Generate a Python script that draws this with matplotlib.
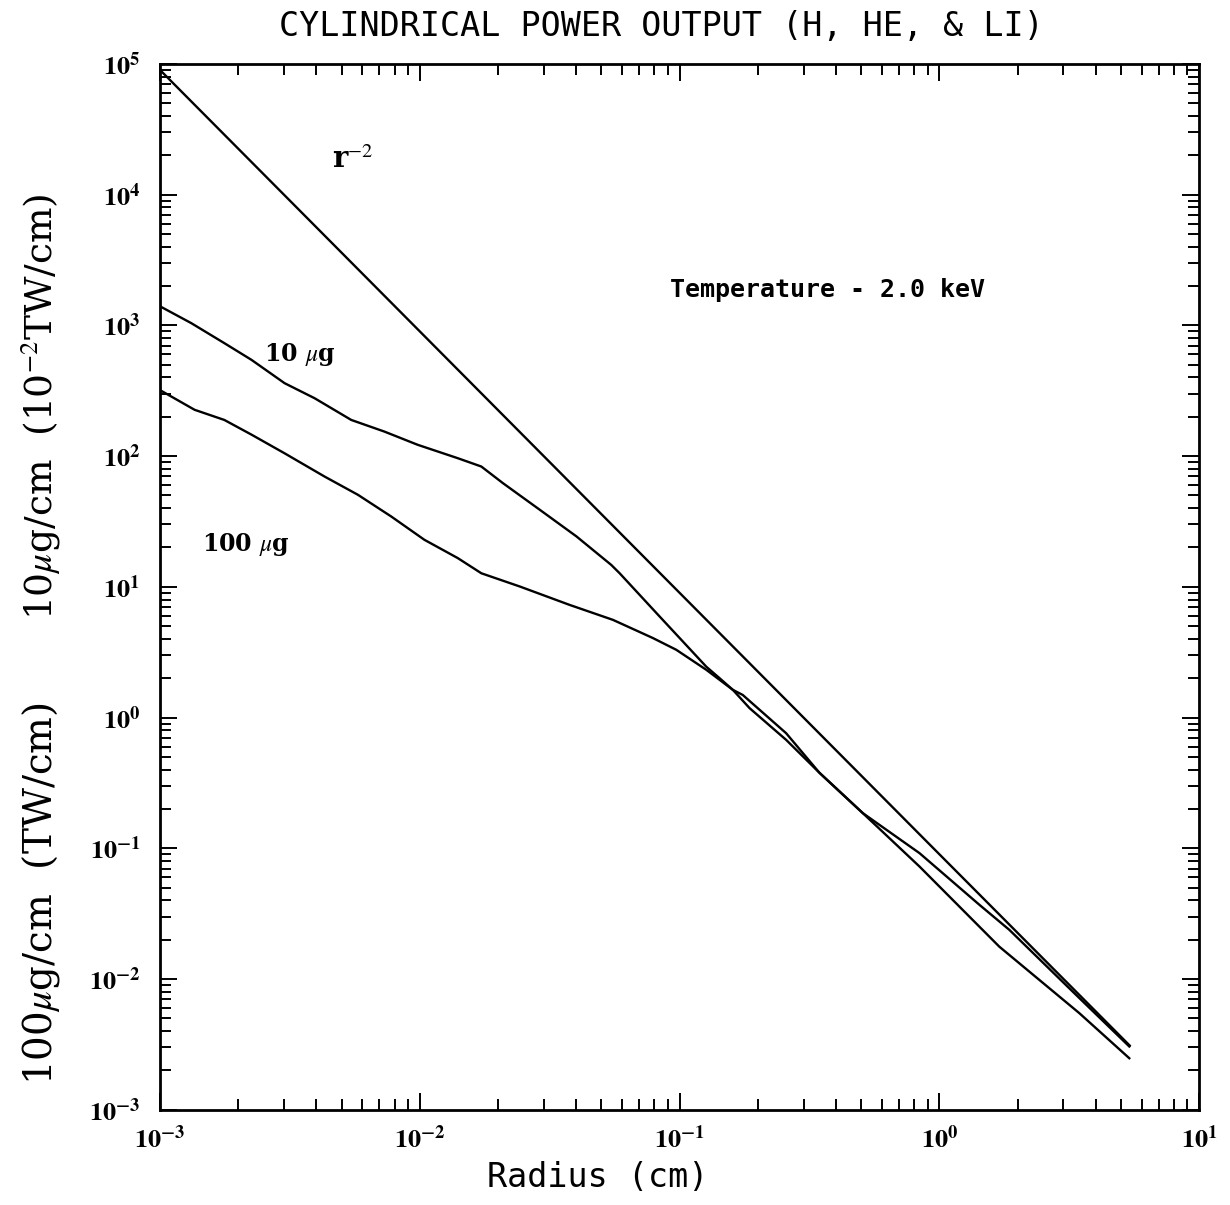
import matplotlib
matplotlib.use("Agg")
import matplotlib.pyplot as plt
from matplotlib.ticker import LogLocator, NullFormatter

plt.rcParams["mathtext.fontset"] = "stix"

# r^-2 reference line
r2_radius = [0.001, 0.01, 0.1, 1.0, 5.4]
r2_power = [9.0e4, 900, 9.0, 0.09, 3.1e-3]

# 10 ug curve
ug10_radius = [0.001, 0.00132, 0.00177, 0.00225, 0.00302, 0.00394, 0.00545, 0.00731,
               0.00982, 0.0140, 0.01726, 0.0209, 0.0290, 0.0401, 0.0546, 0.0588, 0.0838,
               0.1267, 0.1426, 0.1603, 0.186, 0.257, 0.3455, 0.507, 0.838, 1.70, 3.45, 5.38]
ug10_power = [1400, 1040, 731, 545, 361, 277, 189, 154,
              122, 96.4, 83.2, 62.1, 38.8, 24.3, 14.7, 12.7, 5.93,
              2.45, 2.00, 1.63, 1.18, 0.676, 0.378, 0.186, 0.0726, 0.0177, 0.0055, 0.00248]

# 100 ug curve
ug100_radius = [0.001, 0.00136, 0.00177, 0.00225, 0.00302, 0.0043, 0.00578, 0.00777,
                0.01042, 0.0140, 0.01726, 0.0243, 0.0377, 0.0554, 0.0789, 0.0971, 0.1267,
                0.1603, 0.175, 0.257, 0.3455, 0.507, 0.838, 1.425, 1.858, 3.16, 5.38]
ug100_power = [320, 226, 189, 146, 105, 69.8, 50.6, 34.5,
               22.9, 16.6, 12.7, 10.05, 7.28, 5.59, 4.06, 3.30, 2.32,
               1.63, 1.49, 0.76, 0.378, 0.186, 0.0919, 0.037, 0.0238, 0.0085, 0.00305]

x_ticks = [1e-3, 1e-2, 1e-1, 1e0, 1e1]
x_tick_labels = [r"$\mathbf{10^{-3}}$", r"$\mathbf{10^{-2}}$", r"$\mathbf{10^{-1}}$",
                 r"$\mathbf{10^{0}}$", r"$\mathbf{10^{1}}$"]
y_ticks = [1e-3, 1e-2, 1e-1, 1e0, 1e1, 1e2, 1e3, 1e4, 1e5]
y_tick_labels = [r"$\mathbf{10^{-3}}$", r"$\mathbf{10^{-2}}$", r"$\mathbf{10^{-1}}$",
                 r"$\mathbf{10^{0}}$", r"$\mathbf{10^{1}}$", r"$\mathbf{10^{2}}$",
                 r"$\mathbf{10^{3}}$", r"$\mathbf{10^{4}}$", r"$\mathbf{10^{5}}$"]

fig = plt.figure(figsize=(12.3, 12.05), dpi=100)
ax = fig.add_axes([0.130, 0.079, 0.845, 0.868])

line_kw = dict(color="black", linewidth=1.7)
ax.plot(r2_radius, r2_power, **line_kw)
ax.plot(ug10_radius, ug10_power, **line_kw)
ax.plot(ug100_radius, ug100_power, **line_kw)

ax.set_xscale("log")
ax.set_yscale("log")
ax.set_xlim(1e-3, 1e1)
ax.set_ylim(1e-3, 1e5)

ax.set_xticks(x_ticks, labels=x_tick_labels)
ax.set_yticks(y_ticks, labels=y_tick_labels)
ax.xaxis.set_minor_locator(LogLocator(base=10, subs=range(2, 10), numticks=100))
ax.yaxis.set_minor_locator(LogLocator(base=10, subs=range(2, 10), numticks=100))
ax.xaxis.set_minor_formatter(NullFormatter())
ax.yaxis.set_minor_formatter(NullFormatter())
ax.tick_params(which="both", direction="in", top=True, right=True, width=1.4)
ax.tick_params(which="major", length=12, labelsize=19)
ax.tick_params(axis="x", which="major", pad=12)
ax.tick_params(axis="y", which="major", pad=14)
ax.tick_params(which="minor", length=8)
for spine in ax.spines.values():
    spine.set_linewidth(2.0)

ax.text(5.5e-3, 1.85e4, r"r$^{-2}$", fontsize=21, fontweight="bold",
        family="DejaVu Serif", ha="center", va="center")
ax.text(3.46e-3, 594, r"10 $\mu$g", fontsize=17, fontweight="bold",
        family="DejaVu Serif", ha="center", va="center")
ax.text(2.14e-3, 20.9, r"100 $\mu$g", fontsize=17, fontweight="bold",
        family="DejaVu Serif", ha="center", va="center")
ax.text(0.371, 1871, "Temperature - 2.0 keV", fontsize=18, fontweight="bold",
        family="DejaVu Sans Mono", ha="center", va="center")

fig.text(0.538, 0.978, "CYLINDRICAL POWER OUTPUT (H, HE, & LI)", fontsize=24,
         family="DejaVu Sans Mono", ha="center", va="center")
fig.text(0.486, 0.023, "Radius (cm)", fontsize=24, family="DejaVu Sans Mono",
         ha="center", va="center")

fig.text(0.033, 1 - 894 / 1205, r"100$\mu$g/cm  (TW/cm)", fontsize=28,
         family="DejaVu Serif", rotation=90, ha="center", va="center")
fig.text(0.033, 1 - 407 / 1205, r"10$\mu$g/cm  (10$^{-2}$TW/cm)", fontsize=27,
         family="DejaVu Serif", rotation=90, ha="center", va="center")

fig.savefig("out.png", dpi=100)
